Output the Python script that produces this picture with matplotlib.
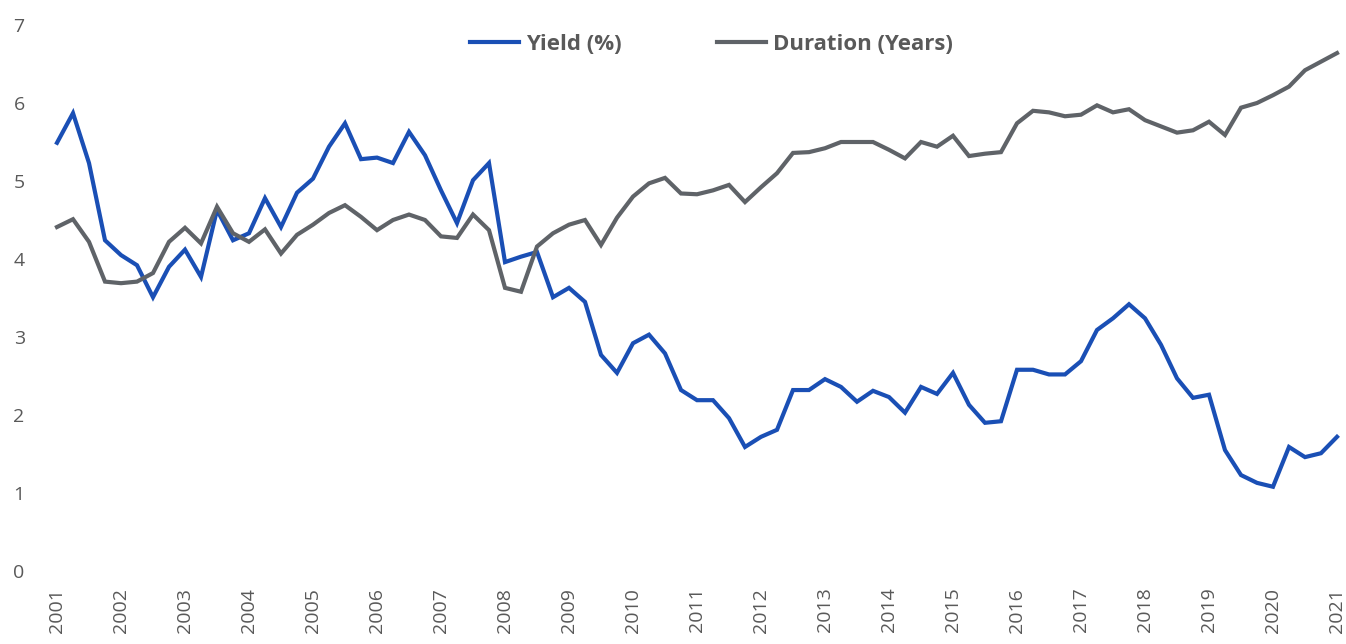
import matplotlib
matplotlib.use("Agg")
import matplotlib.pyplot as plt

# Quarterly observations, 2001 Q1 .. 2021 Q1
yield_pct = [5.49, 5.87, 5.23, 4.24, 4.05, 3.92, 3.51, 3.90, 4.12, 3.77,
             4.63, 4.24, 4.33, 4.78, 4.41, 4.85, 5.03, 5.44, 5.74, 5.28,
             5.30, 5.23, 5.63, 5.33, 4.88, 4.46, 5.01, 5.23, 3.96, 4.03,
             4.09, 3.51, 3.63, 3.45, 2.77, 2.54, 2.92, 3.03, 2.79, 2.32,
             2.19, 2.19, 1.96, 1.59, 1.72, 1.81, 2.32, 2.32, 2.46, 2.36,
             2.17, 2.31, 2.23, 2.03, 2.36, 2.27, 2.54, 2.13, 1.90, 1.92,
             2.58, 2.58, 2.52, 2.52, 2.69, 3.09, 3.24, 3.42, 3.24, 2.90,
             2.47, 2.22, 2.26, 1.55, 1.23, 1.13, 1.08, 1.59, 1.46, 1.51,
             1.72]

duration_years = [4.41, 4.51, 4.22, 3.71, 3.69, 3.71, 3.82, 4.22, 4.40, 4.20,
                  4.67, 4.33, 4.22, 4.38, 4.07, 4.31, 4.44, 4.59, 4.69, 4.54,
                  4.37, 4.50, 4.57, 4.50, 4.29, 4.27, 4.57, 4.37, 3.63, 3.58,
                  4.16, 4.33, 4.44, 4.50, 4.18, 4.53, 4.80, 4.97, 5.04, 4.84,
                  4.83, 4.88, 4.95, 4.73, 4.92, 5.10, 5.36, 5.37, 5.42, 5.50,
                  5.50, 5.50, 5.40, 5.29, 5.50, 5.44, 5.58, 5.32, 5.35, 5.37,
                  5.74, 5.90, 5.88, 5.83, 5.85, 5.97, 5.88, 5.92, 5.78, 5.70,
                  5.62, 5.65, 5.76, 5.59, 5.94, 6.00, 6.10, 6.21, 6.42, 6.53,
                  6.64]

year_labels = ["2001", "2002", "2003", "2004", "2005", "2006", "2007",
               "2008", "2009", "2010", "2011", "2012", "2013", "2014",
               "2015", "2016", "2017", "2018", "2019", "2020", "2021"]
y_ticks = [0, 1, 2, 3, 4, 5, 6, 7]

series_names = ["Yield (%)", "Duration (Years)"]

BLUE = "#1a4fb5"
GRAY = "#5f6368"
TEXT = "#595959"

plt.rcParams["font.family"] = ["Open Sans", "DejaVu Sans"]

fig = plt.figure(figsize=(13.46, 6.44), dpi=100)
ax = fig.add_axes([40 / 1346, (644 - 571) / 644, (1341 - 40) / 1346, (571 - 25) / 644])

x = list(range(len(yield_pct)))
ax.plot(x, yield_pct, color=BLUE, lw=3.0, solid_joinstyle="miter", label=series_names[0])
ax.plot(x, duration_years, color=GRAY, lw=3.0, solid_joinstyle="miter", label=series_names[1])

ax.set_ylim(0, 7)
ax.set_xlim((40 - 57) / 16, (1341 - 57) / 16)
ax.set_yticks(y_ticks)
ax.set_yticklabels([str(v) for v in y_ticks])
ax.set_xticks([i * 4 for i in range(len(year_labels))])
ax.set_xticklabels(year_labels, rotation=90)

ax.tick_params(axis="both", length=0, labelsize=14, labelcolor=TEXT)
ax.tick_params(axis="y", pad=11)
ax.tick_params(axis="x", pad=12)
for s in ax.spines.values():
    s.set_visible(False)

leg = ax.legend(loc="upper center", bbox_to_anchor=(0.516, 1.02), ncol=2, frameon=False,
                handlelength=2.2, handletextpad=0.3, columnspacing=4.3,
                prop={"size": 16, "weight": "bold"})
for t in leg.get_texts():
    t.set_color(TEXT)

fig.savefig("out.png", dpi=100, facecolor="white")
